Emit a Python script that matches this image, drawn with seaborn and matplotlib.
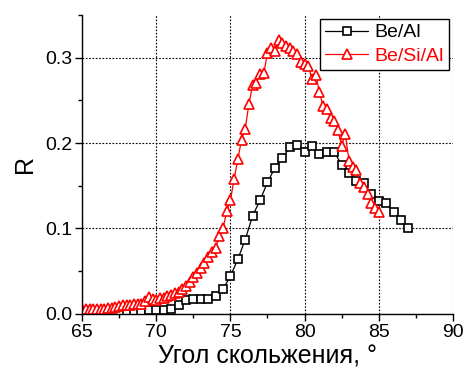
import numpy as np
import pandas as pd
import matplotlib
matplotlib.use('Agg')
from matplotlib import pyplot as plt
from matplotlib.ticker import MultipleLocator, FormatStrFormatter
import seaborn as sns

sns.set_theme(style='ticks')
plt.rcParams['font.family'] = ['Liberation Sans', 'DejaVu Sans']
plt.rcParams['text.color'] = 'black'
plt.rcParams['axes.labelcolor'] = 'black'

# Be/Al
angle_beal = [68.0, 68.5, 69.0, 69.5, 70.0, 70.5, 71.0, 71.5, 72.0, 72.5,
              73.0, 73.5, 74.0, 74.5, 75.0, 75.5, 76.0, 76.5, 77.0, 77.5,
              78.0, 78.5, 79.0, 79.5, 80.0, 80.5, 81.0, 81.5, 82.0, 82.5,
              83.0, 83.5, 84.0, 84.5, 85.0, 85.5, 86.0, 86.5, 87.0]
r_beal = [0.001, 0.002, 0.003, 0.004, 0.004, 0.005, 0.006, 0.010, 0.016, 0.017,
          0.017, 0.017, 0.021, 0.029, 0.044, 0.064, 0.087, 0.115, 0.133, 0.154,
          0.171, 0.182, 0.195, 0.198, 0.190, 0.197, 0.187, 0.190, 0.190, 0.174,
          0.165, 0.155, 0.153, 0.140, 0.132, 0.130, 0.119, 0.110, 0.100]

# Be/Si/Al
angle_besial = [65.0, 65.25, 65.5, 65.75, 66.0, 66.25, 66.5, 66.75, 67.0, 67.25,
                67.5, 67.75, 68.0, 68.25, 68.5, 68.75, 69.0, 69.25, 69.5, 69.75,
                70.0, 70.25, 70.5, 70.75, 71.0, 71.25, 71.5, 71.75, 72.0, 72.25,
                72.5, 72.75, 73.0, 73.25, 73.5, 73.75, 74.0, 74.25, 74.5, 74.75,
                75.0, 75.25, 75.5, 75.75, 76.0, 76.25, 76.5, 76.75, 77.0, 77.25,
                77.5, 77.75, 78.0, 78.25, 78.5, 78.75, 79.0, 79.25, 79.5, 79.75,
                80.0, 80.25, 80.5, 80.75, 81.0, 81.25, 81.5, 81.75, 82.0, 82.25,
                82.5, 82.75, 83.0, 83.25, 83.5, 83.75, 84.0, 84.25, 84.5, 84.75,
                85.0]
r_besial = [0.006, 0.006, 0.006, 0.006, 0.006, 0.006, 0.006, 0.007, 0.007, 0.008,
            0.009, 0.010, 0.010, 0.010, 0.011, 0.011, 0.012, 0.015, 0.020, 0.017,
            0.016, 0.018, 0.019, 0.021, 0.022, 0.024, 0.026, 0.029, 0.032, 0.037,
            0.043, 0.048, 0.054, 0.060, 0.066, 0.072, 0.077, 0.091, 0.100, 0.120,
            0.133, 0.158, 0.181, 0.204, 0.217, 0.246, 0.268, 0.270, 0.281, 0.282,
            0.305, 0.311, 0.308, 0.321, 0.317, 0.314, 0.311, 0.308, 0.304, 0.295,
            0.293, 0.290, 0.275, 0.280, 0.260, 0.243, 0.240, 0.229, 0.226, 0.215,
            0.197, 0.210, 0.179, 0.172, 0.168, 0.153, 0.149, 0.140, 0.130, 0.124,
            0.119]

fig = plt.figure(figsize=(4.64, 3.74), dpi=100)
ax = fig.add_axes([0.177, 0.161, 0.799, 0.799])

sns.lineplot(x=angle_beal, y=r_beal, ax=ax, color='black', lw=0.9,
             marker='s', ms=5.8, mfc='white', mec='black', mew=1.2,
             label='Be/Al', sort=False)
sns.lineplot(x=angle_besial, y=r_besial, ax=ax, color='red', lw=0.9,
             marker='^', ms=7.5, mfc='white', mec='red', mew=1.2,
             label='Be/Si/Al', sort=False)

ax.set_xlim(65, 90)
ax.set_ylim(0, 0.35)
ax.xaxis.set_major_locator(MultipleLocator(5))
ax.xaxis.set_minor_locator(MultipleLocator(2.5))
ax.yaxis.set_major_locator(MultipleLocator(0.1))
ax.yaxis.set_minor_locator(MultipleLocator(0.05))
ax.yaxis.set_major_formatter(FormatStrFormatter('%.1f'))
ax.grid(True, which='major', linestyle=(0, (1.5, 1.5)), color='black', lw=0.8)
ax.set_axisbelow(True)
sns.despine(ax=ax)
for s in ['left', 'bottom']:
    ax.spines[s].set_color('black')
    ax.spines[s].set_linewidth(1.0)
ax.tick_params(which='major', direction='out', length=5, width=1,
               labelsize=14, colors='black', pad=2)
ax.tick_params(which='minor', direction='out', length=3, width=1, colors='black')

ax.set_xlabel('Угол скольжения, °', fontsize=18, labelpad=3, color='black')
ax.set_ylabel('R', fontsize=18, labelpad=6, color='black')

leg = ax.legend(loc='upper right', fontsize=14, frameon=True, fancybox=False,
                edgecolor='black', framealpha=1, borderaxespad=0.2,
                handlelength=2.2, borderpad=0.25, labelspacing=0.3,
                handletextpad=0.35)
leg.get_frame().set_linewidth(1.0)
leg.get_texts()[0].set_color('black')
leg.get_texts()[1].set_color('red')

fig.savefig('out.png', dpi=100)
